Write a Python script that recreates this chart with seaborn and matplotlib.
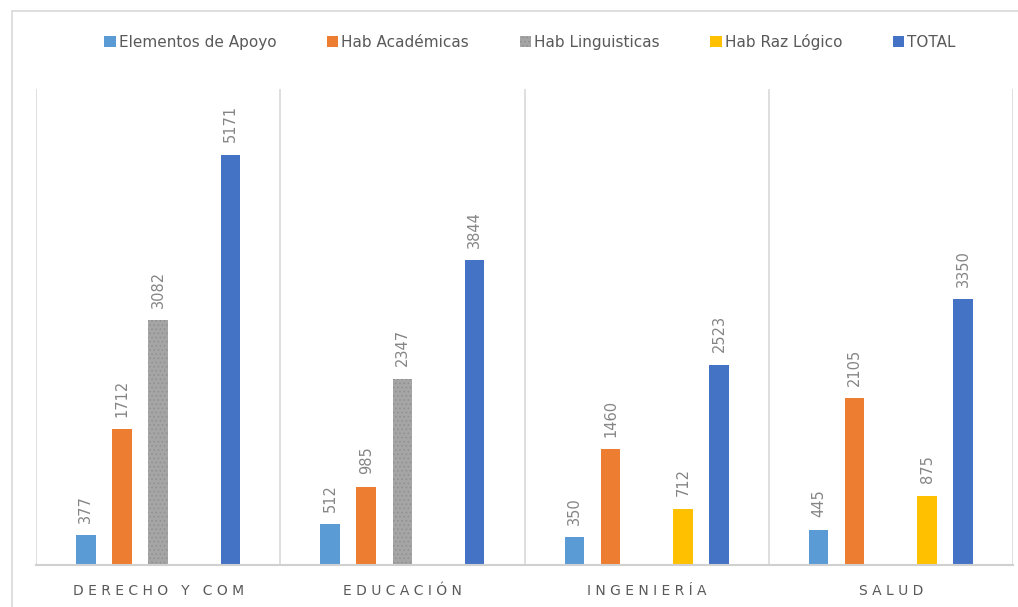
import matplotlib
matplotlib.use("Agg")
import matplotlib.pyplot as plt
from matplotlib.lines import Line2D
from matplotlib.patches import Patch
import seaborn as sns
import pandas as pd
import numpy as np

categories = ["DERECHO Y COM", "EDUCACIÓN", "INGENIERÍA", "SALUD"]
series_names = ["Elementos de Apoyo", "Hab Académicas", "Hab Linguisticas", "Hab Raz Lógico", "TOTAL"]
elementos_apoyo = [377, 512, 350, 445]
hab_academicas = [1712, 985, 1460, 2105]
hab_linguisticas = [3082, 2347, None, None]
hab_raz_logico = [None, None, 712, 875]
total = [5171, 3844, 2523, 3350]
colors = ["#5B9BD5", "#ED7D31", "#A5A5A5", "#FFC000", "#4472C4"]

all_series = [elementos_apoyo, hab_academicas, hab_linguisticas, hab_raz_logico, total]
rows = []
for name, vals in zip(series_names, all_series):
    for cat, v in zip(categories, vals):
        if v is not None:
            rows.append({"cat": cat, "serie": name, "valor": v})
df = pd.DataFrame(rows)

sns.set_theme(style="white")
plt.rcParams['font.family'] = ['DejaVu Sans']
plt.rcParams['hatch.linewidth'] = 0.6

fig = plt.figure(figsize=(10.18, 6.07), dpi=100)
ax = fig.add_axes([36/1018, (607-565)/607, (1013-36)/1018, (565-89)/607])

sns.barplot(data=df, x="cat", y="valor", hue="serie", order=categories,
            hue_order=series_names, palette=colors, width=0.74, gap=0.46,
            dodge=True, ax=ax, legend=False, saturation=1, linewidth=0)

# dotted pattern for the gray series
for c_idx, cont in enumerate(ax.containers):
    if c_idx == 2:
        for bar in cont:
            bar.set_hatch("....")
            bar.set_edgecolor("#8F8F8F")
            bar.set_linewidth(0)

for cont in ax.containers:
    ax.bar_label(cont, fmt="%d", rotation=90, padding=9, fontsize=10.5,
                 color="#858585")

ax.set_ylim(0, 6000)
ax.set_xlim(-0.5, 3.5)
ax.set_yticks([])
ax.set_xlabel("")
ax.set_ylabel("")

def spaced(s):
    return " ".join(list(s))

ax.set_xticks(range(len(categories)))
ax.set_xticklabels([spaced(c) for c in categories], fontsize=10, color="#595959")
ax.tick_params(axis="x", length=0, pad=14)

for x in [-0.5, 0.5, 1.5, 2.5, 3.5]:
    ax.axvline(x, color="#D9D9D9", lw=1.2, zorder=0)

for s in ["top", "right", "left"]:
    ax.spines[s].set_visible(False)
ax.spines["bottom"].set_color("#D0D0D0")
ax.spines["bottom"].set_linewidth(1.5)

# chart border (left and top edges visible)
fig.add_artist(Line2D([12/1018, 12/1018], [0, 1-11/607], color="#D9D9D9", lw=1.2))
fig.add_artist(Line2D([12/1018, 1.01], [1-11/607, 1-11/607], color="#D9D9D9", lw=1.2))

handles = []
for i, (n, c) in enumerate(zip(series_names, colors)):
    if i == 2:
        handles.append(Patch(facecolor=c, edgecolor="#8F8F8F", hatch="....", linewidth=0, label=n))
    else:
        handles.append(Patch(facecolor=c, edgecolor=c, linewidth=0, label=n))
leg = fig.legend(handles=handles, loc="center", bbox_to_anchor=(530/1018, 1-42/607),
                 ncol=5, frameon=False, fontsize=11, handlelength=0.75, handleheight=0.75,
                 handletextpad=0.2, columnspacing=3.3, labelcolor="#595959")

fig.savefig("out.png", dpi=100, facecolor="white")
